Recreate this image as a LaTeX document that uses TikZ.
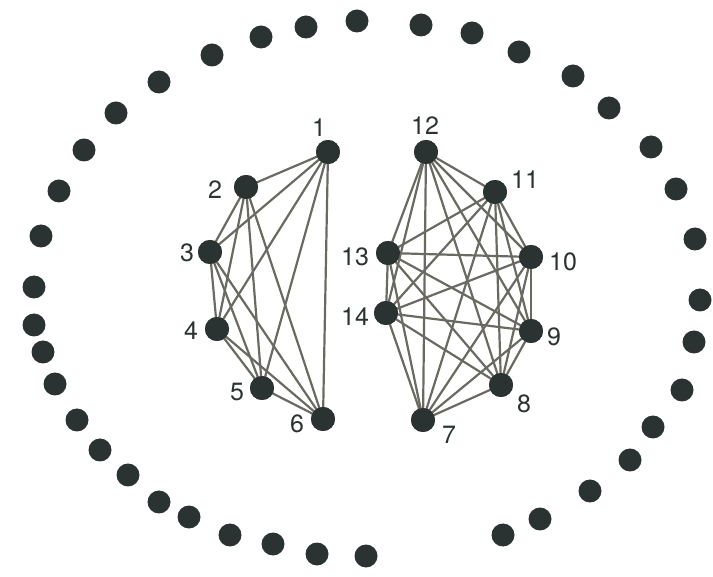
\documentclass[tikz,border=0pt]{standalone}
\usepackage{fontspec}
\setmainfont{TeX Gyre Heros}
\definecolor{dotc}{HTML}{2B3232}
\definecolor{edgec}{HTML}{6A6A62}
\begin{document}
\begin{tikzpicture}[x=1pt,y=-1pt,
  vtx/.style={circle,fill=dotc,inner sep=0pt,minimum size=24pt},
  ring/.style={circle,fill=dotc,inner sep=0pt,minimum size=23pt},
  lbl/.style={font=\fontsize{25}{25}\selectfont,text=dotc,inner sep=0pt},
  edg/.style={draw=edgec,line width=2.2pt}]
\useasboundingbox (0,0) rectangle (713,577);
% ring dots
\foreach \x/\y [count=\i] in {357/21,306/27,261/37,212/55,159/82,116/113,84/150,59/191,41/236,34/287,34/325,43/352,55/384,77/420,100/450,128/475,159/502,189/517,230/535,273/544,317/554,366/556,421/25,472/33,519/52,573/76,609/108,651/147,676/189,695/239,700/300,694/342,682/390,653/427,630/460,590/491,540/519,503/535}
  \node[ring] (r\i) at (\x,\y) {};
% left graph
\node[vtx] (n1) at (328,152) {};
\node[vtx] (n2) at (246,187) {};
\node[vtx] (n3) at (210,252) {};
\node[vtx] (n4) at (217,329) {};
\node[vtx] (n5) at (262,388) {};
\node[vtx] (n6) at (323,419) {};
% right graph
\node[vtx] (n7) at (423,420) {};
\node[vtx] (n8) at (501,385) {};
\node[vtx] (n9) at (531,331) {};
\node[vtx] (n10) at (531,257) {};
\node[vtx] (n11) at (495,192) {};
\node[vtx] (n12) at (426,152) {};
\node[vtx] (n13) at (388,253) {};
\node[vtx] (n14) at (386,313) {};
\foreach \a in {1,...,6}{
  \foreach \b in {1,...,6}{
    \ifnum\a<\b \draw[edg] (n\a.center) -- (n\b.center); \fi
  }}
\foreach \a in {7,...,14}{
  \foreach \b in {7,...,14}{
    \ifnum\a<\b \draw[edg] (n\a.center) -- (n\b.center); \fi
  }}
% redraw nodes on top of edges
\foreach \i in {1,...,14} \fill[dotc] (n\i.center) circle (12pt);
% labels
\node[lbl] (l1) at (319,128) {1};
\node[lbl] (l2) at (215,190) {2};
\node[lbl] (l3) at (187,253) {3};
\node[lbl] (l4) at (191,331) {4};
\node[lbl] (l5) at (237,392) {5};
\node[lbl] (l6) at (297,424) {6};
\node[lbl] (l7) at (449,435) {7};
\node[lbl] (l8) at (524,404) {8};
\node[lbl] (l9) at (554,337) {9};
\node[lbl] (l10) at (563,262) {10};
\node[lbl] (l11) at (525,180) {11};
\node[lbl] (l12) at (425,126) {12};
\node[lbl] (l13) at (355,257) {13};
\node[lbl] (l14) at (355,317) {14};
\end{tikzpicture}
\end{document}
